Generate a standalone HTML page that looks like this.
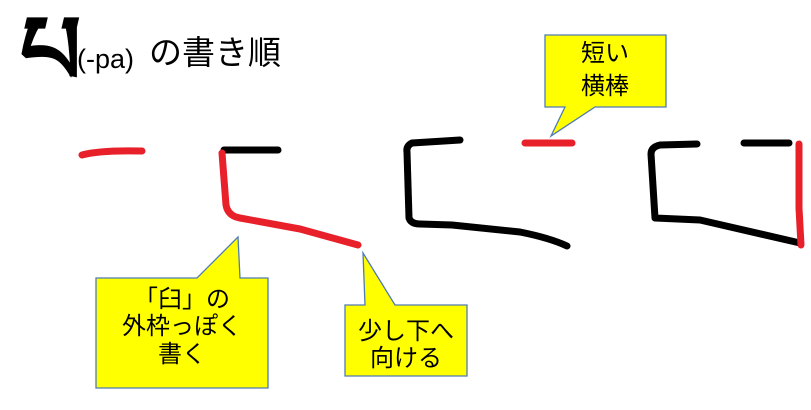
<!DOCTYPE html>
<html><head><meta charset="utf-8"><style>
body{margin:0;width:811px;height:410px;background:#fff;overflow:hidden;position:relative;font-family:"Liberation Sans","Noto Sans CJK JP",sans-serif}
</style></head><body>
<svg width="811" height="410" style="position:absolute;left:0;top:0" font-family="'Liberation Sans','Noto Sans CJK JP',sans-serif">
<g fill="none" stroke-linecap="round" stroke-linejoin="round" stroke-width="7">
<path d="M82 155 Q100 150 142 151" stroke="#e8202a"/>
<path d="M224 150 L278 150" stroke="#000"/>
<path d="M222 153 L226 205 Q228 216 240 218 L300 229 L358 245" stroke="#e8202a"/>
<path d="M460 140 L412 143 Q406 146 407 152 L409 218 Q411 224 420 224 L452 225 L520 232 Q550 238 567 246" stroke="#000"/>
<path d="M525 143 L572 143" stroke="#e8202a"/>
<path d="M697 144 L660 145 Q651 147 651 154 L655 218 L700 220 L800 243" stroke="#000"/>
<path d="M744 143 L789 143" stroke="#000"/>
<path d="M799 144 L799 208 L801 245" stroke="#e8202a"/>
</g>
<g fill="#ffff00" stroke="#4f7bb5" stroke-width="1.3">
<path d="M96 278 H197 L238 237 L240 278 H268 V388 H96 Z"/>
<path d="M345 305 H365 L363 253 L395 305 H467 V376 H345 Z"/>
<path d="M545 35 H666 V107 H595 L551 136 L565 107 H545 Z"/>
</g>
<g font-size="24" text-anchor="middle" fill="#000">
<text x="182" y="307">「臼」の</text>
<text x="182" y="334">外枠っぽく</text>
<text x="182" y="362">書く</text>
<text x="406" y="339">少し下へ</text>
<text x="406" y="366">向ける</text>
<text x="605" y="61">短い</text>
<text x="605" y="94">横棒</text>
</g>
<text x="20" y="84" font-size="96" font-weight="bold">པ</text>
<text x="77" y="68" font-size="27">(-pa)</text>
<text x="149" y="64" font-size="33">の書き順</text>
</svg>
</body></html>
